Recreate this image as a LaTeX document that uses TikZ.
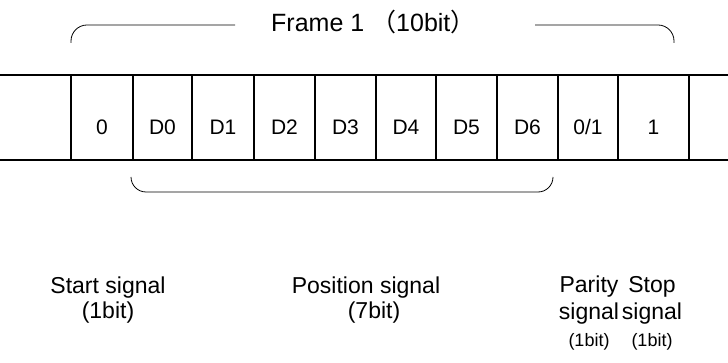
\documentclass[tikz,border=0pt]{standalone}
\usepackage{fontspec}
\setmainfont{Liberation Sans}
\newfontfamily\cjk{Noto Sans CJK SC}
\usetikzlibrary{positioning}

\begin{document}
\begin{tikzpicture}[x=1pt,y=-1pt,
      cell/.style={anchor=base, inner sep=0pt, font=\fontsize{21}{25}\selectfont},
      lab/.style={align=center, inner sep=0pt, font=\fontsize{23}{25}\selectfont},
      grid/.style={line width=1.6pt},
      brk/.style={line width=0.8pt, rounded corners=16pt}]
    \useasboundingbox (0,0) rectangle (728,363);
    % bit cells
    \draw[grid] (0,75) -- (728,75);
    \draw[grid] (0,160) -- (728,160);
    \foreach \xa/\xb/\txt [count=\i from 0] in {71/133/0, 133/192/D0, 192/254/D1, 254/315/D2,
        315/376/D3, 376/436/D4, 436/497/D5, 497/558/D6, 558/618/{0/1}, 618/689/1}{
      \draw[grid] (\xa,75) -- (\xa,160);
      \node[cell] (b\i) at ({(\xa+\xb)/2},135) {\txt};
    }
    \draw[grid] (689,75) -- (689,160);
    % frame bracket
    \node[anchor=base west, inner sep=0pt, font=\fontsize{25}{28}\selectfont] (frame) at (271,32)
      {Frame 1 {\cjk（}10bit{\cjk）}};
    \coordinate (fl)  at (71,43);
    \coordinate (fla) at (235,25);
    \coordinate (fra) at (535,25);
    \coordinate (fr)  at (674,43);
    \draw[brk] (fl) |- (fla);
    \draw[brk] (fra) -| (fr);
    % data bracket
    \coordinate (pl) at (131,177);
    \coordinate (pr) at (553,177);
    \draw[brk, rounded corners=15pt] (pl) -- ++(0,15) -| (pr);
    % signal names
    \node[lab] (start) at (108,300) {Start signal\\(1bit)};
    \node[lab] (pos)   at (366,300) {Position signal\\\hspace*{16pt}(7bit)};
    \node[lab, font=\fontsize{23}{27}\selectfont] (par)  at (589,313)
      {Parity\\signal\\{\fontsize{18}{22}\selectfont(1bit)}};
    \node[lab, font=\fontsize{23}{27}\selectfont] (stop) at (652,313)
      {Stop\\signal\\{\fontsize{18}{22}\selectfont(1bit)}};
  \end{tikzpicture}
\end{document}
